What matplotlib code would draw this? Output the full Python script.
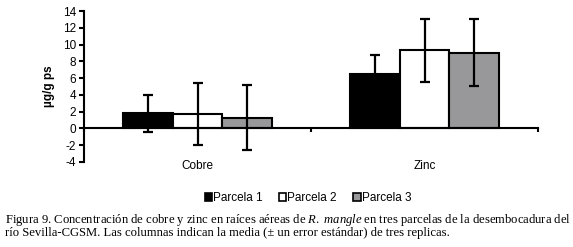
import matplotlib.pyplot as plt
import numpy as np
from matplotlib.patches import Patch

# Datos (media ± error estándar)
categorias = ['Cobre', 'Zinc']
parcelas = ['Parcela 1', 'Parcela 2', 'Parcela 3']
medias = {
    'Parcela 1': [1.8, 6.5],
    'Parcela 2': [1.7, 9.3],
    'Parcela 3': [1.3, 9.05],
}
errores = {
    'Parcela 1': [2.2, 2.25],
    'Parcela 2': [3.7, 3.8],
    'Parcela 3': [3.85, 3.95],
}
colores = ['#000000', '#ffffff', '#98989b']
y_ticks = list(range(-4, 15, 2))

plt.rcParams['font.family'] = ['Liberation Sans', 'DejaVu Sans']
plt.rcParams['mathtext.fontset'] = 'custom'
plt.rcParams['mathtext.rm'] = 'Liberation Serif'
plt.rcParams['mathtext.it'] = 'Liberation Serif:italic'

fig = plt.figure(figsize=(5.73, 2.47), dpi=100)
ax = fig.add_axes([84 / 573, 1 - 162 / 247, (538 - 84) / 573, 151 / 247])

x = np.arange(len(categorias))
ancho = 0.22
for i, p in enumerate(parcelas):
    pos = x + (i - 1) * ancho
    ax.bar(pos, medias[p], width=ancho, color=colores[i], edgecolor='black',
           linewidth=1.5, zorder=2)
    ax.errorbar(pos, medias[p], yerr=errores[p], fmt='none', ecolor='black',
                elinewidth=1.6, capsize=3.5, capthick=1.6, zorder=3)

ax.set_xlim(-0.5, 1.5)
ax.set_ylim(-4, 14)
ax.set_yticks(y_ticks)
ax.set_yticklabels([str(t) for t in y_ticks], fontsize=8.5)
ax.set_xticks([-0.5, 0.5, 1.5])
ax.set_xticklabels([])

ax.spines['top'].set_visible(False)
ax.spines['right'].set_visible(False)
ax.spines['bottom'].set_position(('data', 0))
ax.spines['left'].set_linewidth(1.5)
ax.spines['bottom'].set_linewidth(1.5)
ax.tick_params(axis='y', direction='out', length=3.5, width=1.5, pad=2)
ax.tick_params(axis='x', direction='out', length=3, width=1.5)

for xi, cat in zip(x, categorias):
    ax.text(xi, -4.45, cat, ha='center', va='center', fontsize=8.5)

ax.set_ylabel('µg/g ps', fontsize=8.5, fontweight='bold', labelpad=6)

handles = [Patch(facecolor=c, edgecolor='black', linewidth=1.2, label=p)
           for c, p in zip(colores, parcelas)]
fig.legend(handles=handles, loc='center', bbox_to_anchor=(308 / 573, 1 - 198 / 247),
           ncol=3, frameon=False, fontsize=8.5, handlelength=0.6, handleheight=0.6,
           handletextpad=0.1, columnspacing=1.4)

caption1 = ('Figura 9. Concentración de cobre y zinc en raíces aéreas de $\\it{R.\\ mangle}$ '
            'en tres parcelas de la desembocadura del')
caption2 = ('río Sevilla-CGSM. Las columnas indican la media (± un error estándar) '
            'de tres replicas.')
fig.text(5 / 573, 1 - 220 / 247, caption1, ha='left', va='center', fontsize=9.1,
         family='Liberation Serif')
fig.text(5 / 573, 1 - 233 / 247, caption2, ha='left', va='center', fontsize=9.1,
         family='Liberation Serif')

fig.savefig('out.png', dpi=100)
